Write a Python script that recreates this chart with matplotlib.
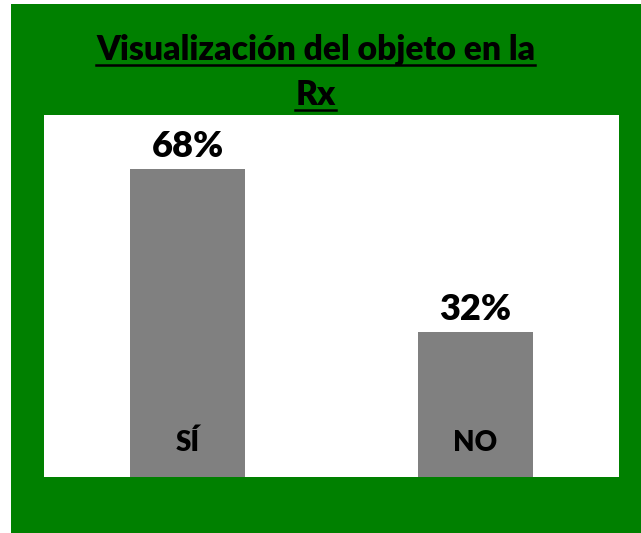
import matplotlib.pyplot as plt
from matplotlib.patches import Rectangle
from matplotlib.lines import Line2D
from matplotlib import transforms

# Datos del gráfico
categorias = ["SÍ", "NO"]
valores = [0.68, 0.32]
etiquetas = ["68%", "32%"]
titulo = ["Visualización del objeto en la", "Rx"]

verde = "#008000"
gris = "#808080"
fuente = "Lato"
peso = "heavy"

fig = plt.figure(figsize=(6.41, 5.33), dpi=100, facecolor="white")

# Fondo verde del área del gráfico
fig.patches.append(Rectangle((11 / 641, 0), 1 - 11 / 641, 529 / 533,
                             transform=fig.transFigure, facecolor=verde,
                             edgecolor="none", zorder=-10))

ax = fig.add_axes([44 / 641, 56 / 533, 575 / 641, 362 / 533])
ax.set_zorder(1)
x = range(len(categorias))
ax.bar(x, valores, width=0.4, color=gris, zorder=2)
ax.set_xlim(-0.5, 1.5)
ax.set_ylim(0, 0.8)
ax.axis("off")
ax.add_patch(Rectangle((0, 0), 1, 1, transform=ax.transAxes,
                       facecolor="white", edgecolor="none", zorder=0))

for i, v in enumerate(valores):
    ax.annotate(etiquetas[i], (i, v), xytext=(0, 8.6), textcoords="offset points",
                ha="center", va="baseline", fontsize=26, fontweight=peso,
                family=fuente, zorder=3)
    tr = transforms.blended_transform_factory(ax.transData, ax.transAxes)
    ax.text(i, 26 / 362, categorias[i], transform=tr, ha="center",
            va="baseline", fontsize=20, fontweight=peso, family=fuente,
            zorder=3)

# Título subrayado en dos líneas
y_base = [(533 - 60) / 533, (533 - 105) / 533]
y_sub = [(533 - 65) / 533, (533 - 110) / 533]
textos = []
for t, yb in zip(titulo, y_base):
    textos.append(fig.text(315.5 / 641, yb, t, ha="center", va="baseline",
                           fontsize=24.2, fontweight=peso, family=fuente))

fig.canvas.draw()
r = fig.canvas.get_renderer()
for txt, ys in zip(textos, y_sub):
    bb = txt.get_window_extent(r).transformed(fig.transFigure.inverted())
    fig.lines.append(Line2D([bb.x0, bb.x1], [ys, ys], transform=fig.transFigure,
                            color="black", linewidth=1.8))

fig.savefig("out.png", dpi=100, facecolor="white")
